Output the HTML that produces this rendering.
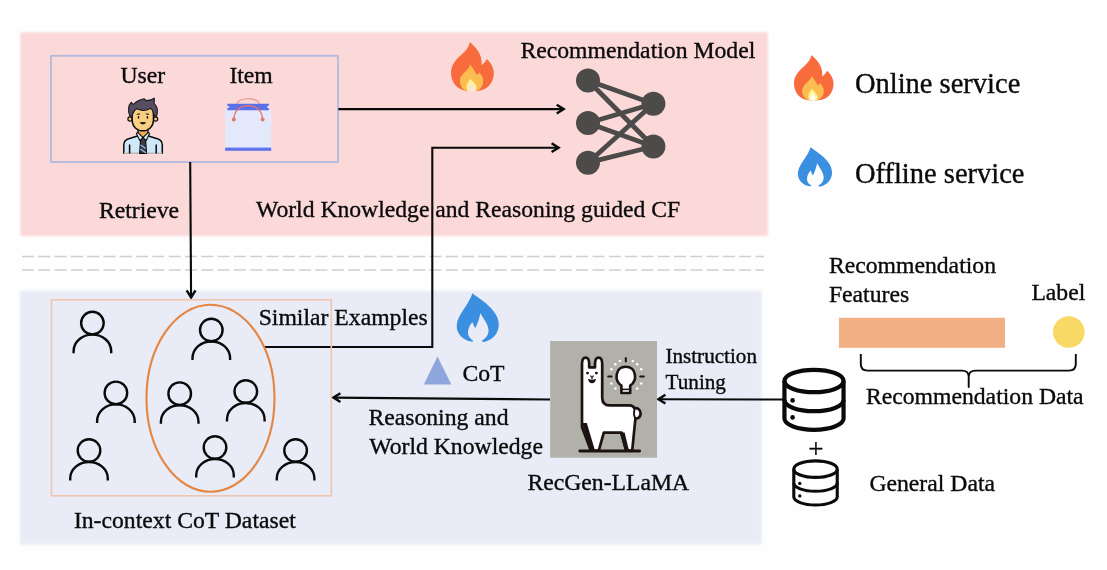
<!DOCTYPE html>
<html>
<head>
<meta charset="utf-8">
<title>RecGen-LLaMA framework</title>
<style>
html,body{margin:0;padding:0;background:#fefefe;}
body{width:1107px;height:570px;overflow:hidden;}
svg{display:block;will-change:transform;}
text{font-family:"Liberation Serif","Times New Roman",serif;fill:#0a0a0a;stroke:#0a0a0a;stroke-width:0.35px;paint-order:stroke;}
.t{font-size:23.7px;}
.s{font-size:21.15px;}
.l{font-size:28.5px;}
</style>
</head>
<body>
<svg width="1107" height="570" viewBox="0 0 1107 570">
<defs>
  <filter id="soft" x="-2%" y="-5%" width="104%" height="110%"><feGaussianBlur stdDeviation="0.8"/></filter>
  <g id="person" fill="none" stroke="#0a0a0a" stroke-width="2.4" stroke-linecap="butt">
    <circle cx="0.4" cy="0.5" r="11.3"/>
    <path d="M-18.4 30.6 V28.8 C-18.4 18.8 -9.5 12 0.4 12 C10.3 12 19.2 18.8 19.2 28.8 V30.6"/>
  </g>
  <g id="flame-o">
    <path fill="#f76b3c" d="M19.4 0 C22.5 3 29 8.5 30.6 16 C31.1 18.5 31.3 21 31.1 23.2 C33.2 21.3 35.4 19 36.3 16.9 C40.3 20.5 43.3 25.5 43.3 31 C43.3 41 36.5 48.9 26 48.9 L18 48.9 C7.5 48.9 0.5 41 0.5 30.5 C0.5 23 5.5 17.5 10 13.5 C14 10 18.2 6 19.4 0 Z"/>
    <path fill="#fbbd50" d="M19.7 22.4 C21.5 25.5 24.5 28.5 26 32.9 C27.2 32.2 28.2 31.4 28.8 30.6 C31.4 33 32.7 36 32.7 39 C32.7 44.5 29 48.9 24 48.9 L18 48.9 C13 48.9 9.4 44.5 9.4 39 C9.4 31.5 18 29 19.7 22.4 Z"/>
    <path fill="#fdf394" d="M19.6 36.6 C21.5 39 26.2 42 26.2 46 C26.2 47.5 25.4 48.9 24 48.9 L18.6 48.9 C17 48.9 16 47.5 16 45.5 C16 41.5 18.6 39.5 19.6 36.6 Z"/>
    <path d="M20.6 41.3 C22 42.8 23.9 45 23.9 47.3 C23.9 48.4 23.4 49.2 22.6 49.2 L19.4 49.2 C18.5 49.2 18 48.4 18 47 C18 44.8 19.8 43.2 20.6 41.3 Z"/>
  </g>
  <g id="flame-b">
    <path fill="#3a8fe0" d="M15.4 0.2 C19 3 26 7.5 30.2 11.4 C35.5 16.2 41.8 23 41.8 31.5 C41.8 40.5 35.5 47.4 27 48.9 C25.6 49.1 24.4 48.2 25.4 47.3 C29 45 31.5 42 31.5 37.5 C31.5 31 26.5 26 23.3 19.9 C22.5 25.5 20.5 30.5 18.2 35.3 C17.2 33.5 16.2 31.5 15.4 29.1 C13 32 11 35.5 11 39.5 C11 43 12.8 45.6 15.6 47.2 C16.8 48 15.6 48.9 14.2 48.6 C6.5 47.3 -0.3 41.5 -0.3 33 C-0.3 22 12 12 15.4 0.2 Z"/>
  </g>
  <g id="db" fill="none" stroke="#0a0a0a" stroke-width="4.2">
    <ellipse cx="32" cy="14.6" rx="29.55" ry="11.2"/>
    <path d="M2.45 14.6 V52.2 A29.55 11.2 0 0 0 61.55 52.2 V14.6"/>
    <path d="M2.45 33.6 A29.55 11.2 0 0 0 61.55 33.6"/>
    <circle cx="10.6" cy="34" r="2.3" fill="#0a0a0a" stroke="none"/>
    <circle cx="10.6" cy="51" r="2.3" fill="#0a0a0a" stroke="none"/>
  </g>
</defs>

<!-- backgrounds -->
<rect x="0" y="0" width="1107" height="570" fill="#fefefe"/>
<rect x="20.3" y="32.2" width="747.6" height="203.9" fill="#fcd9d9" filter="url(#soft)"/>
<rect x="20.2" y="290.8" width="741.4" height="253.7" fill="#e9ebf7" filter="url(#soft)"/>

<!-- dashed separators -->
<line x1="22" y1="256.5" x2="764" y2="256.5" stroke="#d0d0d0" stroke-width="1.4" stroke-dasharray="12 4.3"/>
<line x1="22" y1="270" x2="764" y2="270" stroke="#d0d0d0" stroke-width="1.4" stroke-dasharray="12 4.3"/>

<!-- user/item box -->
<rect x="51" y="55.8" width="287" height="106.2" fill="none" stroke="#b2b9dd" stroke-width="1.8"/>
<text class="t" x="120.4" y="83">User</text>
<text class="t" x="229.4" y="83">Item</text>

<!-- user avatar -->
<g id="avatar" transform="translate(123,98)">
  <path d="M0.8 55.2 V47 C0.8 43.4 3 41.4 6.5 40.5 L14.5 38 H25.5 L33.5 40.5 C37 41.4 39.3 43.4 39.3 47 V55.2 Z" fill="#cfe8f8" stroke="#0a0a0a" stroke-width="1.5" stroke-linejoin="round"/>
  <rect x="1.2" y="54" width="37.7" height="1.9" fill="#c9cbd0"/>
  <path d="M6.6 46.5 V55.4 M33.2 46.5 V55.4" stroke="#0a0a0a" stroke-width="1.5" fill="none"/>
  <path d="M15 30.5 H25 V36.5 L20 41 L15 36.5 Z" fill="#f0ad5a" stroke="#0a0a0a" stroke-width="1.2" stroke-linejoin="round"/>
  <path d="M18.3 39.2 H21.9 L22.6 42.3 L23.6 55.4 H16.6 L17.6 42.3 Z" fill="#3c3a44" stroke="#0a0a0a" stroke-width="1.1" stroke-linejoin="round"/>
  <path d="M17.6 47 L22.8 50.5 M17.2 51 L23.2 55" stroke="#8fc0e6" stroke-width="1.3" fill="none"/>
  <path d="M13.4 35.4 L14.8 34.3 L20 39.6 L16.8 42.6 Z" fill="#d9eefb" stroke="#0a0a0a" stroke-width="1.1" stroke-linejoin="round"/>
  <path d="M26.6 35.4 L25.2 34.3 L20 39.6 L23.2 42.6 Z" fill="#d9eefb" stroke="#0a0a0a" stroke-width="1.1" stroke-linejoin="round"/>
  <circle cx="7" cy="21" r="2.1" fill="#f8cd7e" stroke="#0a0a0a" stroke-width="1.2"/>
  <circle cx="32.6" cy="21" r="2.1" fill="#f8cd7e" stroke="#0a0a0a" stroke-width="1.2"/>
  <path d="M9.2 14 C9.2 10.5 12 9.5 19.7 9.5 C27.5 9.5 30.4 10.5 30.4 14 V22.5 C30.4 28.5 25.5 32.8 19.8 32.8 C14 32.8 9.2 28.5 9.2 22.5 Z" fill="#f9cf82" stroke="#0a0a0a" stroke-width="1.4"/>
  <path d="M6.9 18.4 C4.6 13 5.3 7 8.2 4.4 C8.8 5.4 9.4 6 10.4 6.4 C13 3.4 17 1.8 21.2 0.8 C21.6 1.6 22.6 2.4 24 2.6 C26.8 2.4 29.6 1.4 31.2 0.2 C31.5 2 31.4 3.8 31 5.4 C33.4 7.6 34.6 10.6 34.4 13.6 C34.3 15.6 33.8 17.4 33 18.6 C31.6 18.2 30.6 17 30.4 15.4 C30.2 13.2 29.2 11.4 27.6 10.4 C25.4 12 22.6 12.6 19.6 12.4 C17.4 12.2 15.4 11.6 13.6 10.8 C11.2 12.2 10 14.4 9.6 16.4 C9.3 17.6 8.4 18.4 6.9 18.4 Z" fill="#574d61" stroke="#1a1520" stroke-width="1.1" stroke-linejoin="round"/>
  <ellipse cx="15.5" cy="19.4" rx="0.75" ry="1.3" fill="#0a0a0a"/>
  <ellipse cx="24.4" cy="19.4" rx="0.75" ry="1.3" fill="#0a0a0a"/>
  <path d="M13.8 16.3 L17 15.9 M22.8 15.9 L26 16.3" stroke="#0a0a0a" stroke-width="1" fill="none"/>
  <path d="M17.4 24.8 Q19.9 27.2 22.4 24.8 Z" stroke="#0a0a0a" stroke-width="1" fill="#3a1f1f" stroke-linejoin="round"/>
</g>

<!-- shopping bag -->
<g id="bag">
  <path d="M236.5 104.5 C239 96.9 257.5 96.9 259.5 104.5" fill="none" stroke="#e98a7e" stroke-width="1.1"/>
  <rect x="225.1" y="109.5" width="46.1" height="41.3" fill="#e3e8fb"/>
  <path d="M227.3 103.8 H269 V110.3 H227.3 Z" fill="#5b70e9"/>
  <path d="M227.3 105.3 L229.6 107 L227.3 108.8 Z M269 105.3 L266.7 107 L269 108.8 Z" fill="#e8ecfc"/>
  <rect x="225.1" y="147.6" width="46.1" height="3.2" fill="#5f73ea"/>
  <path d="M233.8 119.5 C234 101 262.4 101 262.6 119.5" fill="none" stroke="#e8776c" stroke-width="1.3"/>
  <circle cx="233.8" cy="119.6" r="2" fill="#e8776c"/>
  <circle cx="262.6" cy="119.6" r="2" fill="#e8776c"/>
</g>

<text class="t" x="98.9" y="218">Retrieve</text>
<text class="t" x="256" y="216.6" style="font-size:23.65px">World Knowledge and Reasoning guided CF</text>
<text class="t" x="520.4" y="57.8">Recommendation Model</text>

<!-- flame in pink -->
<use href="#flame-o" transform="translate(450.5,42)" fill="#fbe3dd"/>

<!-- NN icon -->
<g stroke="#4c4b4a" stroke-width="4.8" stroke-linecap="round">
  <line x1="588" y1="80.5" x2="653.4" y2="103.8"/>
  <line x1="588" y1="80.5" x2="653.4" y2="146.5"/>
  <line x1="588" y1="123" x2="653.4" y2="103.8"/>
  <line x1="588" y1="123" x2="653.4" y2="146.5"/>
  <line x1="588" y1="162.7" x2="653.4" y2="103.8"/>
  <line x1="588" y1="162.7" x2="653.4" y2="146.5"/>
</g>
<g fill="#4c4b4a">
  <circle cx="588" cy="80.5" r="12"/>
  <circle cx="588" cy="123" r="12"/>
  <circle cx="588" cy="162.7" r="12"/>
  <circle cx="653.4" cy="103.8" r="12"/>
  <circle cx="653.4" cy="146.5" r="12"/>
</g>

<!-- arrows -->
<g fill="none" stroke="#0a0a0a" stroke-width="2.1">
  <path d="M338.3 109.1 H564"/>
  <path d="M265 347 H432.3 V147.7 H559"/>
  <path d="M190.2 162 L191.1 298"/>
  <path d="M550 399.5 L333 397.6"/>
  <path d="M783 399.5 L658 399.2"/>
</g>
<g fill="none" stroke="#0a0a0a" stroke-width="2.4" stroke-linejoin="miter">
  <path id="ah" d="M-9.4 -4.4 L-2.4 0 L-9.4 4.4" transform="translate(566.1,109.1)"/>
  <path d="M-9.4 -4.4 L-2.4 0 L-9.4 4.4" transform="translate(561,147.7)"/>
  <path d="M-9.4 -4.4 L-2.4 0 L-9.4 4.4" transform="translate(191.1,299.8) rotate(90)"/>
  <path d="M-9.4 -4.4 L-2.4 0 L-9.4 4.4" transform="translate(331,397.6) rotate(180)"/>
  <path d="M-9.4 -4.4 L-2.4 0 L-9.4 4.4" transform="translate(656,399.2) rotate(180)"/>
</g>

<!-- in-context dataset -->
<rect x="51.5" y="299.8" width="279.8" height="196" fill="none" stroke="#efc6ad" stroke-width="1.6"/>
<ellipse cx="210.5" cy="398.3" rx="64" ry="93.5" fill="none" stroke="#e5853f" stroke-width="2.1"/>
<use href="#person" x="92" y="322.6"/>
<use href="#person" x="210.9" y="329.5"/>
<use href="#person" x="115.5" y="392.4"/>
<use href="#person" x="179.3" y="393.2"/>
<use href="#person" x="245.4" y="391"/>
<use href="#person" x="88.6" y="450"/>
<use href="#person" x="214.6" y="447"/>
<use href="#person" x="295.2" y="450"/>
<text class="t" x="73.9" y="528">In-context CoT Dataset</text>
<text class="t" x="258.7" y="325.3">Similar Examples</text>

<!-- blue flame -->
<use href="#flame-b" transform="translate(457,293)"/>

<!-- CoT -->
<path d="M437.5 356.5 L451.3 384.6 H423.8 Z" fill="#8fa6dc"/>
<text class="t" x="462.4" y="381">CoT</text>
<text class="t" x="368.4" y="425">Reasoning and</text>
<text class="t" x="369.2" y="454">World Knowledge</text>

<!-- llama -->
<rect x="550.2" y="341" width="106.8" height="116.7" fill="#b1b1a9"/>
<g id="llama">
  <path d="M590.8 450.6 L582 427 V363.8 C582 359.6 583.4 357.6 585.6 357.6 C587.8 357.6 589.2 359.6 589.2 363.8 V367.4 H595 V363.8 C595 359.6 596.4 357.6 598.6 357.6 C600.8 357.6 602.2 359.6 602.2 363.8 V397.5 C602.2 402.8 604.6 405.4 609.6 405.4 H629.5 C632 405.4 633.6 406.6 634.5 408.4 C637.6 407.6 640.6 409.8 640.6 413.2 C640.6 416.4 638.4 418.4 635.4 418.6 L632.2 450.6 H626.2 L621.6 432.6 H603.8 L598.8 450.6 Z" fill="#ffffff" stroke="#1c1212" stroke-width="2.7" stroke-linejoin="round"/>
  <path d="M582 423 L590.6 450.6 H595 L586.8 423 Z" fill="#1c1212"/>
  <path d="M619.6 432.6 L624.8 450.6 H629 L624.6 432.6 Z" fill="#1c1212"/>
  <path d="M634.6 409 C633.6 412 633.8 415.4 635.2 418.4" fill="none" stroke="#1c1212" stroke-width="1.8"/>
  <line x1="579.8" y1="451" x2="639.6" y2="451" stroke="#1c1212" stroke-width="2.9" stroke-linecap="round"/>
  <circle cx="587.5" cy="373.1" r="1.45" fill="#1c1212"/>
  <circle cx="596.4" cy="373.1" r="1.45" fill="#1c1212"/>
  <path d="M590.6 375.8 L592 377.4 L593.4 375.8 M592 377.4 V379" stroke="#1c1212" stroke-width="1.1" fill="none" stroke-linecap="round"/>
  <path d="M588 378.8 Q592 380.6 596 378.8 Q595.4 383.2 592 383.2 Q588.6 383.2 588 378.8 Z" fill="#1c1212"/>
  <g fill="#ffffff">
    <circle cx="615.4" cy="364.2" r="1.25"/><circle cx="619.8" cy="361" r="1.25"/>
    <circle cx="632.8" cy="361" r="1.25"/><circle cx="637.2" cy="364.2" r="1.25"/>
    <circle cx="611.4" cy="369.2" r="1.25"/><circle cx="641.2" cy="369.2" r="1.25"/>
    <circle cx="611.4" cy="383.6" r="1.25"/><circle cx="641.2" cy="383.6" r="1.25"/>
    <circle cx="615.4" cy="388.6" r="1.25"/><circle cx="637.2" cy="388.6" r="1.25"/>
  </g>
  <path d="M621.4 385.6 C613.6 380.4 615.4 366.8 625.8 366.8 C636.2 366.8 638 380.4 630.2 385.6 V393 H621.4 Z" fill="#ffffff" stroke="#1c1212" stroke-width="2.6" stroke-linejoin="round"/>
  <line x1="621.4" y1="389.4" x2="630.2" y2="389.4" stroke="#1c1212" stroke-width="1.6"/>
  <path d="M625.8 358 V361.4 M608.2 376.4 H611.6 M640.2 376.4 H643.8" stroke="#1c1212" stroke-width="2" stroke-linecap="round"/>
</g>
<text class="s" x="665.4" y="363">Instruction</text>
<text class="s" x="665.6" y="389.2">Tuning</text>
<text class="t" x="527.4" y="490">RecGen-LLaMA</text>

<!-- legend -->
<use href="#flame-o" transform="translate(793.5,55) scale(0.925)" fill="#fffdf8"/>
<text class="l" x="854.9" y="93.3">Online service</text>
<use href="#flame-b" transform="translate(798.1,147.1) scale(0.812,0.808)"/>
<text class="l" x="854.9" y="183.3">Offline service</text>

<!-- data -->
<text class="t" x="828.9" y="272.8">Recommendation</text>
<text class="t" x="828.9" y="302">Features</text>
<text class="t" x="1031.4" y="300.2">Label</text>
<rect x="839" y="317.8" width="166" height="30" fill="#f0b084"/>
<circle cx="1068.8" cy="332" r="15.8" fill="#f9d966"/>
<path d="M860.8 354 V364 Q860.8 370.6 867.5 370.6 H962 Q968.7 370.6 968.7 377 V387 V377 Q968.7 370.6 975.5 370.6 H1069 Q1075.8 370.6 1075.8 364 V354" fill="none" stroke="#0a0a0a" stroke-width="1.9" stroke-linejoin="round"/>
<text class="t" x="865.9" y="403.5">Recommendation Data</text>
<use href="#db" transform="translate(782,366.4)"/>
<text x="808.3" y="457.6" style="font-size:27px">+</text>
<use href="#db" transform="translate(792,458.4) scale(0.735)"/>
<text class="t" x="869.4" y="490.8">General Data</text>
</svg>
</body>
</html>
